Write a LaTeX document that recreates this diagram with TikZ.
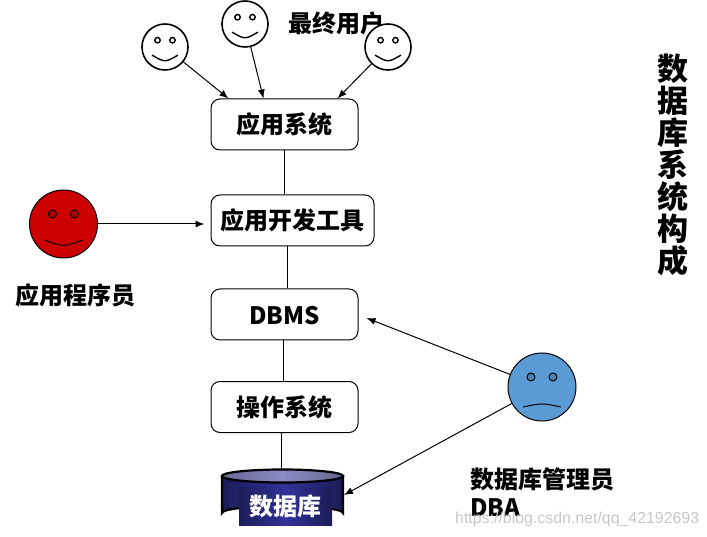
\documentclass[tikz,border=0pt]{standalone}
\usepackage{fontspec}
\usetikzlibrary{arrows.meta}
\setmainfont{Noto Sans CJK SC}
\setsansfont{Liberation Sans}
\definecolor{facered}{HTML}{CC0000}
\definecolor{faceblue}{HTML}{5B9BD5}
\definecolor{dbdark}{HTML}{1C1C58}
\definecolor{dbmid}{HTML}{32329A}
\definecolor{dblid}{HTML}{8A8AC4}
\tikzset{
  label24/.style={font=\fontsize{24}{28}\selectfont\bfseries},
  sysbox/.style={draw,line width=1,rounded corners=9,label24,inner sep=0pt,minimum height=51},
  userface/.style={draw,circle,fill=white,line width=1.6,inner sep=0pt,minimum size=46},
  bigface/.style={draw,circle,line width=1,inner sep=0pt,minimum size=68},
  conn/.style={-{Latex[length=9,width=7]},line width=1},
  stem/.style={line width=1},
}
% eyes and mouth of a face: node, scope options, eye colour, mouth end, mouth control
\newcommand{\facemarks}[5]{
  \begin{scope}[shift={(#1.center)},#2]
    \draw[fill=#3] (-11,-10) circle (4);
    \draw[fill=#3] (11,-10) circle (4);
    \draw (-19,#4) .. controls (0,#5) .. (19,#4);
  \end{scope}
}
\begin{document}
\begin{tikzpicture}[x=1pt,y=-1pt]
\useasboundingbox (0,0) rectangle (707,537);
\node[label24] (enduser) at (336,23.5) {最终用户};
% the faces
\node[userface] (u1) at (165,47) {};
\node[userface] (u2) at (245,24) {};
\node[userface] (u3) at (388,47) {};
\facemarks{u1}{scale=0.68,line width=1.4}{white}{12}{23}
\facemarks{u2}{scale=0.68,line width=1.4}{white}{12}{23}
\facemarks{u3}{scale=0.68,line width=1.4}{white}{12}{23}
\node[bigface,fill=facered] (dev) at (63.5,224) {};
\node[bigface,fill=faceblue] (admin) at (542,387) {};
\facemarks{dev}{line width=1}{facered!85!black}{16}{23}
\facemarks{admin}{line width=1}{faceblue!85!black}{20}{16}
% the stack
\node[sysbox,minimum width=147] (app) at (284.5,124.5) {应用系统};
\node[sysbox,minimum width=163] (tools) at (292.5,220.5) {应用开发工具};
\node[sysbox,minimum width=147,text height=21] (dbms) at (284.5,314.5) {DBMS};
\node[sysbox,minimum width=147] (os) at (284.5,407) {操作系统};
% the database
\coordinate (dbtop) at (281,470);
\draw[line width=2.2,left color=dbdark,right color=dbdark,middle color=dbmid]
  (222,476) -- (222,513) arc[start angle=180,end angle=0,x radius=60.5,y radius=-7]
  -- (343,476) -- cycle;
\draw[line width=2.2,left color=dblid!75!black,right color=dblid!75!black,middle color=dblid]
  (282.5,476) ellipse [x radius=60.5,y radius=6.5];
\node[label24,text=white,inner sep=0pt,minimum width=93,minimum height=38,
  left color=dbdark,right color=dbdark,middle color=dbmid] (db) at (285.5,506) {数据库};
% the connectors
\draw[stem] (app.south) -- (app.south |- tools.north);
\draw[stem] ([xshift=-5.5]tools.south) -- ([xshift=2.5]dbms.north);
\draw[stem] ([xshift=-1.5]dbms.south) -- ([xshift=-1.5]os.north);
\draw[stem] ([xshift=-3.5]os.south) -- (dbtop);
\draw[conn] (u1) -- ([xshift=-56]app.north);
\draw[conn] (u2) -- ([xshift=-21]app.north);
\draw[conn] (u3) -- ([xshift=53]app.north);
\draw[conn] (dev.east) -- ([xshift=-6]tools.west |- dev.east);
\draw[conn] (admin) -- ([shift={(8,3.5)}]dbms.east);
\draw[conn] (admin) -- (344,495);
% the labels
\node[label24] (devlabel) at (75.5,295.5) {应用程序员};
\node[label24,anchor=west,align=left,inner sep=0pt] (adminlabel) at (470,492)
  {数据库管理员\\DBA};
\node[font=\fontsize{31}{32}\selectfont\bfseries,align=center,inner sep=0pt] (title) at (673,165)
  {数\\据\\库\\系\\统\\构\\成};
\node[font=\sffamily\fontsize{15.9}{18}\selectfont,text=black!22,anchor=west,inner sep=0pt] (mark) at (455,519)
  {https://blog.csdn.net/qq\_42192693};
\end{tikzpicture}
\end{document}
